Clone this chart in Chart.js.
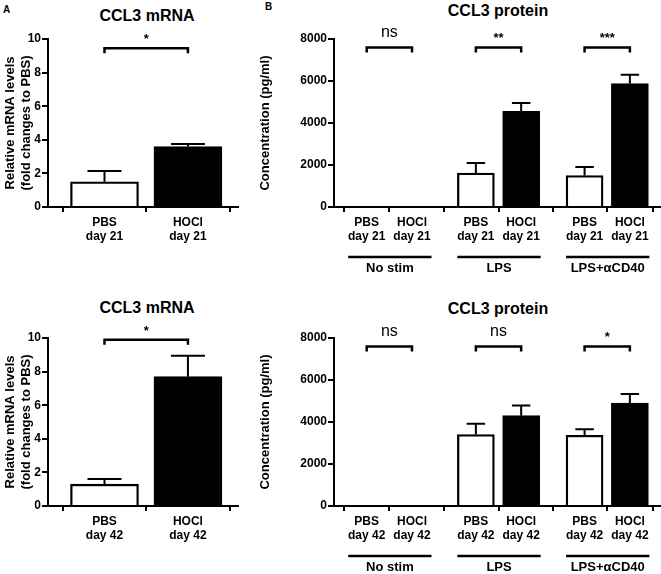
<!DOCTYPE html>
<html>
<head>
<meta charset="utf-8">
<script src="https://cdn.jsdelivr.net/npm/chart.js@4.4.1/dist/chart.umd.min.js"></script>
<style>
  body { margin: 0; background: #fff; width: 661px; height: 574px; position: relative; overflow: hidden;
         font-family: "Liberation Sans", Arial, sans-serif; }
  .box { position: absolute; }
  .ttl { position: absolute; font-weight: bold; font-size: 16px; line-height: 1; white-space: nowrap;
         transform: translate(-50%, -50%); }
  .let { position: absolute; font-weight: bold; font-size: 10px; line-height: 1; }
</style>
</head>
<body>
<div class="let" style="left:3px;top:5px">A</div>
<div class="let" style="left:265px;top:2px">B</div>
<div class="ttl" style="left:147px;top:16px">CCL3 mRNA</div>
<div class="ttl" style="left:498px;top:11px">CCL3 protein</div>
<div class="ttl" style="left:147px;top:308px">CCL3 mRNA</div>
<div class="ttl" style="left:498px;top:309px">CCL3 protein</div>

<div class="box" style="left:0;top:0"><canvas id="mrna21" width="250" height="275"></canvas></div>
<div class="box" style="left:250px;top:0"><canvas id="prot21" width="411" height="275"></canvas></div>
<div class="box" style="left:0;top:299px"><canvas id="mrna42" width="250" height="275"></canvas></div>
<div class="box" style="left:250px;top:299px"><canvas id="prot42" width="411" height="275"></canvas></div>

<script>
// ---- data ----
const treatments = ["PBS", "HOCl"];
const stimGroups = ["No stim", "LPS", "LPS+\u03b1CD40"];
const mrnaTicks = [0, 2, 4, 6, 8, 10];
const protTicks = [0, 2000, 4000, 6000, 8000];

const mrna21 = [1.5, 3.6];
const mrna21Err = [0.65, 0.15];
const mrna42 = [1.3, 7.7];
const mrna42Err = [0.3, 1.25];

// order: No stim PBS, No stim HOCl, LPS PBS, LPS HOCl, aCD40 PBS, aCD40 HOCl
const prot21 = [0, 0, 1620, 4550, 1500, 5880];
const prot21Err = [0, 0, 480, 400, 400, 420];
const prot42 = [0, 0, 3400, 4300, 3370, 4900];
const prot42Err = [0, 0, 520, 490, 290, 430];

const mrna21Sig = ["*"];
const mrna42Sig = ["*"];
const prot21Sig = ["ns", "**", "***"];
const prot42Sig = ["ns", "ns", "*"];

// bracket heights (data units)
const mrna21SigAt = 9.45;
const mrna42SigAt = 9.9;
const protSigAt = 7600;

// ---- layout ----
const mrnaSlots = [0, 1];
const protSlots = [0, 1, 2.41, 3.41, 4.81, 5.81];
const barColors = ["#ffffff", "#000000"];

Chart.defaults.font.family = "'Liberation Sans', Arial, sans-serif";
Chart.defaults.color = "#000";

const extras = {
  id: "extras",
  afterDatasetsDraw(chart, args, opts) {
    const ctx = chart.ctx;
    const y = chart.scales.y;
    const bars = chart.getDatasetMeta(0).data;
    const vals = chart.data.datasets[0].data;
    ctx.save();
    ctx.strokeStyle = "#000";
    ctx.fillStyle = "#000";
    ctx.lineWidth = 2;

    // error bars (upper only)
    opts.err.forEach((e, i) => {
      if (!e) return;
      const b = bars[i];
      const top = y.getPixelForValue(vals[i].y + e);
      const cap = b.width * 0.25;
      ctx.beginPath();
      ctx.moveTo(b.x, b.y);
      ctx.lineTo(b.x, top);
      ctx.moveTo(b.x - cap, top);
      ctx.lineTo(b.x + cap, top);
      ctx.stroke();
    });

    // significance brackets
    const yy = y.getPixelForValue(opts.sigAt);
    ctx.lineWidth = 2.5;
    opts.sig.forEach((s, k) => {
      const x0 = bars[2 * k].x, x1 = bars[2 * k + 1].x;
      ctx.beginPath();
      ctx.moveTo(x0, yy + 5);
      ctx.lineTo(x0, yy);
      ctx.lineTo(x1, yy);
      ctx.lineTo(x1, yy + 5);
      ctx.stroke();
      ctx.textAlign = "center";
      ctx.textBaseline = "alphabetic";
      if (s[0] === "*") {
        ctx.font = "bold 13px 'Liberation Sans', Arial, sans-serif";
        ctx.fillText(s, (x0 + x1) / 2, yy - 5);
      } else {
        ctx.font = "16px 'Liberation Sans', Arial, sans-serif";
        ctx.fillText(s, (x0 + x1) / 2, yy - 10);
      }
    });

    // stimulation groups under the axis
    if (opts.groups) {
      const base = chart.chartArea.bottom;
      ctx.font = "bold 13px 'Liberation Sans', Arial, sans-serif";
      ctx.textAlign = "center";
      ctx.textBaseline = "middle";
      opts.groups.forEach((g, k) => {
        const b0 = bars[2 * k], b1 = bars[2 * k + 1];
        const l = b0.x - b0.width / 2, r = b1.x + b1.width / 2 + 1;
        ctx.beginPath();
        ctx.moveTo(l, base + 50);
        ctx.lineTo(r, base + 50);
        ctx.stroke();
        ctx.fillText(g, (l + r) / 2, base + 61);
      });
    }
    ctx.restore();
  }
};

function makePanel(id, cfg) {
  const ctx = document.getElementById(id).getContext("2d");
  return new Chart(ctx, {
    type: "bar",
    data: {
      datasets: [{
        data: cfg.slots.map((s, i) => ({ x: s, y: cfg.values[i] })),
        backgroundColor: cfg.values.map((v, i) => barColors[i % 2]),
        borderColor: "#000",
        borderWidth: 2.3,
        borderSkipped: "start",
        barThickness: cfg.barWidth,
      }],
    },
    options: {
      responsive: false,
      animation: false,
      layout: { padding: { top: 39, right: cfg.padRight, bottom: 0, left: 0 } },
      plugins: {
        legend: { display: false },
        tooltip: { enabled: false },
        extras: { err: cfg.err, sig: cfg.sig, sigAt: cfg.sigAt, groups: cfg.groups },
      },
      scales: {
        x: {
          type: "linear",
          offset: false,
          z: 1,
          min: cfg.xMin,
          max: cfg.xMax,
          afterBuildTicks: (s) => { s.ticks = cfg.slots.map((v) => ({ value: v })); },
          afterFit: (s) => { s.height = 68; },
          ticks: {
            autoSkip: false,
            maxRotation: 0,
            padding: 3,
            font: { size: 12, weight: "bold", lineHeight: 1.2 },
            color: "#000",
            callback: (v, i) => [treatments[i % 2], cfg.day],
          },
          grid: { drawOnChartArea: false, tickLength: 5, color: "#000", lineWidth: 2 },
          border: { color: "#000", width: 2 },
        },
        y: {
          min: 0,
          max: cfg.ticks[cfg.ticks.length - 1],
          z: 1,
          afterBuildTicks: (s) => { s.ticks = cfg.ticks.map((v) => ({ value: v })); },
          afterFit: (s) => { s.width = cfg.yWidth; },
          ticks: {
            padding: 1,
            font: { size: 12, weight: "bold" },
            color: "#000",
            callback: (v) => String(v),
          },
          grid: { drawOnChartArea: false, tickLength: 6, color: "#000", lineWidth: 2 },
          border: { color: "#000", width: 2 },
          title: {
            display: true,
            text: cfg.yTitle,
            font: { size: 13, weight: "bold" },
            color: "#000",
            padding: { top: cfg.titlePad, bottom: 0 },
          },
        },
      },
    },
    plugins: [extras],
  });
}

const mrnaTitle = ["Relative mRNA levels", "(fold changes to PBS)"];
const protTitle = "Concentration (pg/ml)";

makePanel("mrna21", {
  slots: mrnaSlots, values: mrna21, err: mrna21Err, sig: mrna21Sig, sigAt: mrna21SigAt,
  day: "day 21", ticks: mrnaTicks, yTitle: mrnaTitle, titlePad: 3,
  xMin: -0.677, xMax: 1.6, yWidth: 48, padRight: 12, barWidth: 68,
});
makePanel("mrna42", {
  slots: mrnaSlots, values: mrna42, err: mrna42Err, sig: mrna42Sig, sigAt: mrna42SigAt,
  day: "day 42", ticks: mrnaTicks, yTitle: mrnaTitle, titlePad: 3,
  xMin: -0.677, xMax: 1.6, yWidth: 48, padRight: 12, barWidth: 68,
});
makePanel("prot21", {
  slots: protSlots, values: prot21, err: prot21Err, sig: prot21Sig, sigAt: protSigAt,
  groups: stimGroups, day: "day 21", ticks: protTicks, yTitle: protTitle, titlePad: 7.5,
  xMin: -0.722, xMax: 6.475, yWidth: 84, padRight: 1, barWidth: 37,
});
makePanel("prot42", {
  slots: protSlots, values: prot42, err: prot42Err, sig: prot42Sig, sigAt: protSigAt,
  groups: stimGroups, day: "day 42", ticks: protTicks, yTitle: protTitle, titlePad: 7.5,
  xMin: -0.722, xMax: 6.475, yWidth: 84, padRight: 1, barWidth: 37,
});
</script>
</body>
</html>
